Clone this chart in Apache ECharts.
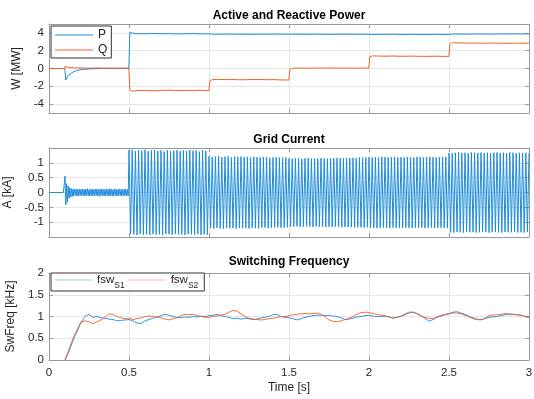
<!DOCTYPE html>
<html><head><meta charset="utf-8">
<script src="https://cdn.jsdelivr.net/npm/echarts@6/dist/echarts.min.js"></script>
<style>html,body{margin:0;padding:0;background:#fff}#c{width:534px;height:399px}</style>
</head><body><div id="c"></div>
<script>
// ---------- text ----------
const titles = ['Active and Reactive Power', 'Grid Current', 'Switching Frequency'];
const yNames = ['W [MW]', 'A [kA]', 'SwFreq [kHz]'];
const xName = 'Time [s]';
const seriesNames = ['P', 'Q', 'Grid current', 'fswS1', 'fswS2'];

// ---------- tick values ----------
const timeTicks = [0, 0.5, 1, 1.5, 2, 2.5, 3];
const powerTicks = [-4, -2, 0, 2, 4];
const currentTicks = [-1, -0.5, 0, 0.5, 1];
const freqTicks = [0, 0.5, 1, 1.5, 2];

// ---------- active / reactive power [MW] ----------
const pqTime = [0, 0.099, 0.1, 0.105, 0.11, 0.12, 0.13, 0.15, 0.17, 0.2, 0.25, 0.3, 0.35, 0.4, 0.45, 0.499,
  0.5, 0.505, 0.52, 0.55, 0.6, 0.65, 0.7, 0.75, 0.8, 0.85, 0.9, 0.95, 0.999,
  1.0, 1.005, 1.02, 1.05, 1.1, 1.15, 1.2, 1.25, 1.3, 1.35, 1.4, 1.45, 1.499,
  1.5, 1.505, 1.52, 1.55, 1.6, 1.65, 1.7, 1.75, 1.8, 1.85, 1.9, 1.95, 1.999,
  2.0, 2.005, 2.02, 2.05, 2.1, 2.15, 2.2, 2.25, 2.3, 2.35, 2.4, 2.45, 2.499,
  2.5, 2.505, 2.52, 2.55, 2.6, 2.65, 2.7, 2.75, 2.8, 2.85, 2.9, 2.95, 3.0];
const pValues = [0, 0, -0.3, -1.3, -1.1, -0.8, -0.6, -0.4, -0.25, -0.12, -0.05, -0.02, 0.0, -0.02, 0.0, 0.0,
  0.0, 4.05, 3.98, 3.92, 3.9, 3.93, 3.9, 3.91, 3.88, 3.9, 3.92, 3.89, 3.9,
  3.9, 3.88, 3.86, 3.85, 3.87, 3.85, 3.86, 3.84, 3.86, 3.85, 3.87, 3.85, 3.86,
  3.86, 3.84, 3.85, 3.86, 3.84, 3.86, 3.85, 3.83, 3.85, 3.86, 3.84, 3.85, 3.85,
  3.85, 3.83, 3.82, 3.84, 3.83, 3.85, 3.82, 3.84, 3.83, 3.82, 3.84, 3.83, 3.83,
  3.84, 3.86, 3.87, 3.88, 3.86, 3.87, 3.88, 3.86, 3.88, 3.87, 3.89, 3.88, 3.9];
const qValues = [0, 0, 0.25, 0.22, 0.18, 0.12, 0.1, 0.08, 0.06, 0.05, 0.04, 0.06, 0.04, 0.05, 0.04, 0.05,
  0.05, -2.4, -2.55, -2.48, -2.45, -2.5, -2.46, -2.44, -2.48, -2.45, -2.47, -2.44, -2.5,
  -2.5, -1.4, -1.25, -1.22, -1.25, -1.24, -1.27, -1.25, -1.23, -1.26, -1.25, -1.28, -1.3,
  -1.3, -0.1, 0.02, 0.05, 0.03, 0.05, 0.04, 0.06, 0.04, 0.05, 0.03, 0.05, 0.04,
  0.04, 1.3, 1.42, 1.4, 1.38, 1.4, 1.37, 1.39, 1.38, 1.36, 1.38, 1.37, 1.36,
  1.36, 2.7, 2.9, 2.88, 2.85, 2.87, 2.84, 2.86, 2.85, 2.83, 2.85, 2.84, 2.85];

// ---------- grid current [kA] ----------
// before 0.1 s the current is zero
const currentLeadTime = [0];
const currentLeadValues = [0];
// start-up transient and low-current band, every 5 ms from 0.09 s
const currentStartupTime = 0.09;
const currentStartupStep = 0.005;
const currentStartupValues = [
  0, 0, 0.55, -0.42, 0.30, -0.32, 0.22, -0.20, 0.16, -0.15, 0.13, -0.14, 0.12,
  -0.11, 0.12, -0.10, 0.11, -0.12, 0.10, -0.11, 0.12, -0.10, 0.11,
  -0.10, 0.12, -0.11, 0.10, -0.12, 0.11, -0.10, 0.13, -0.11, 0.10,
  -0.12, 0.11, -0.10, 0.12, -0.11, 0.10, -0.12, 0.11, -0.10, 0.12,
  -0.11, 0.10, -0.13, 0.11, -0.10, 0.12, -0.11, 0.10, -0.12, 0.11,
  -0.10, 0.12, -0.11, 0.10, -0.12, 0.13, -0.10, 0.11, -0.12, 0.10,
  -0.11, 0.12, -0.10, 0.11, -0.12, 0.10, -0.11, 0.12, -0.10, 0.11,
  -0.12, 0.10, -0.11, 0.12, -0.10, 0.11, -0.12, 0.10, -0.11];
// peak values every half cycle (10 ms) from 0.5 s
const currentStartTime = 0.5;
const currentStep = 0.01;
const currentValues = [
  1.42, -1.40, 1.44, -1.41, 1.40, -1.43, 1.43, -1.40, 1.41, -1.42,
  1.44, -1.41, 1.39, -1.43, 1.42, -1.40, 1.43, -1.42, 1.40, -1.41,
  1.42, -1.43, 1.38, -1.40, 1.43, -1.41, 1.40, -1.42, 1.41, -1.40,
  1.43, -1.42, 1.39, -1.41, 1.42, -1.43, 1.40, -1.40, 1.43, -1.41,
  1.41, -1.42, 1.42, -1.40, 1.38, -1.43, 1.42, -1.41, 1.40, -1.42,
  1.22, -1.20, 1.20, -1.22, 1.21, -1.19, 1.22, -1.21, 1.19, -1.22,
  1.21, -1.20, 1.22, -1.21, 1.18, -1.20, 1.21, -1.22, 1.20, -1.19,
  1.21, -1.21, 1.19, -1.20, 1.20, -1.21, 1.18, -1.19, 1.20, -1.20,
  1.19, -1.21, 1.18, -1.19, 1.20, -1.18, 1.19, -1.20, 1.17, -1.19,
  1.18, -1.18, 1.19, -1.17, 1.18, -1.19, 1.17, -1.18, 1.18, -1.17,
  1.15, -1.16, 1.14, -1.15, 1.16, -1.14, 1.15, -1.16, 1.13, -1.15,
  1.15, -1.14, 1.16, -1.15, 1.14, -1.16, 1.15, -1.14, 1.14, -1.15,
  1.16, -1.15, 1.15, -1.16, 1.14, -1.15, 1.16, -1.16, 1.15, -1.15,
  1.17, -1.16, 1.16, -1.17, 1.15, -1.16, 1.17, -1.16, 1.16, -1.17,
  1.17, -1.18, 1.16, -1.17, 1.18, -1.17, 1.17, -1.18, 1.18, -1.17,
  1.19, -1.18, 1.18, -1.19, 1.19, -1.20, 1.18, -1.19, 1.20, -1.18,
  1.19, -1.19, 1.18, -1.20, 1.19, -1.18, 1.20, -1.19, 1.18, -1.19,
  1.19, -1.20, 1.18, -1.18, 1.20, -1.19, 1.19, -1.20, 1.18, -1.19,
  1.20, -1.19, 1.19, -1.18, 1.18, -1.20, 1.19, -1.19, 1.20, -1.18,
  1.19, -1.20, 1.18, -1.19, 1.19, -1.18, 1.20, -1.19, 1.19, -1.20,
  1.33, -1.34, 1.32, -1.35, 1.34, -1.33, 1.35, -1.34, 1.33, -1.35,
  1.34, -1.33, 1.32, -1.34, 1.35, -1.33, 1.34, -1.35, 1.33, -1.34,
  1.35, -1.34, 1.33, -1.33, 1.34, -1.35, 1.32, -1.34, 1.34, -1.33,
  1.35, -1.34, 1.33, -1.35, 1.34, -1.33, 1.33, -1.34, 1.35, -1.34,
  1.34, -1.33, 1.32, -1.35, 1.34, -1.34, 1.33, -1.35, 1.34, -1.33,
  1.34];

// ---------- switching frequency [kHz], sampled every 25 ms from 0.1 s ----------
const fswStartTime = 0.1;
const fswStep = 0.025;
const fswS1 = [
  0.00, 0.20, 0.45, 0.65, 0.86, 1.00, 1.05, 0.98, 1.00, 0.97,
  0.96, 0.94, 0.93, 0.90, 0.91, 0.92, 0.93, 0.90, 0.85, 0.84,
  0.90, 0.93, 0.96, 0.99, 1.02, 1.05, 1.03, 1.00, 0.98, 0.97,
  0.99, 0.98, 1.00, 0.99, 1.01, 1.00, 1.02, 1.03, 1.05, 1.02,
  1.00, 0.98, 0.95, 0.96, 0.94, 0.96, 0.95, 0.93, 0.94, 0.97,
  0.98, 1.00, 1.04, 1.05, 1.00, 0.98, 0.97, 0.95, 0.92, 0.95,
  0.98, 1.00, 1.02, 1.03, 1.03, 1.02, 1.03, 1.01, 1.00, 0.97,
  0.93, 0.94, 0.96, 0.99, 1.00, 1.02, 1.03, 1.01, 1.00, 1.00,
  1.01, 0.99, 0.96, 0.98, 1.00, 1.04, 1.08, 1.10, 1.07, 1.02,
  0.96, 0.89, 0.93, 0.98, 1.01, 1.04, 1.06, 1.10, 1.11, 1.08,
  1.05, 1.00, 0.97, 0.94, 0.93, 0.95, 0.98, 0.99, 1.00, 1.02,
  1.04, 1.05, 1.05, 1.04, 1.03, 1.00, 0.98];
const fswS2 = [
  0.00, 0.25, 0.50, 0.70, 0.88, 0.90, 0.88, 0.83, 0.88, 0.92,
  0.98, 1.06, 1.05, 1.00, 0.97, 0.95, 0.96, 0.93, 0.95, 0.97,
  1.00, 1.01, 1.00, 0.98, 0.97, 0.94, 0.92, 0.95, 0.97, 1.02,
  1.05, 1.04, 1.05, 1.02, 1.00, 0.98, 0.98, 1.00, 1.01, 1.03,
  1.05, 1.10, 1.14, 1.12, 1.06, 1.00, 0.96, 0.94, 0.93, 0.92,
  0.93, 0.95, 0.96, 0.98, 1.00, 1.00, 1.02, 1.04, 1.05, 1.06,
  1.07, 1.06, 1.07, 1.08, 1.05, 1.00, 0.92, 0.89, 0.88, 0.90,
  0.93, 0.96, 1.00, 1.05, 1.09, 1.10, 1.09, 1.07, 1.05, 1.03,
  1.02, 0.99, 0.97, 0.98, 1.01, 1.06, 1.10, 1.10, 1.06, 1.01,
  0.98, 0.96, 0.95, 0.99, 1.03, 1.05, 1.07, 1.08, 1.08, 1.06,
  1.03, 0.99, 0.95, 0.93, 0.92, 0.96, 1.02, 1.03, 1.04, 1.05,
  1.07, 1.06, 1.05, 1.04, 1.03, 1.00, 0.97];

// ---------- build ----------
const FONT = '"Liberation Sans", Arial, Helvetica, sans-serif';
const BLUE = '#1f8ce0';
const ORANGE = '#f4622a';
const AXIS = '#9a9a9a';
const GRIDC = '#e6e6e6';
const TXT = '#262626';

function zip(t, v) { return v.map((y, i) => [t[i], y]); }
function stepped(t0, dt, v) { return v.map((y, i) => [+(t0 + i * dt).toFixed(4), y]); }

const currentData = zip(currentLeadTime, currentLeadValues)
  .concat(stepped(currentStartupTime, currentStartupStep, currentStartupValues))
  .concat(stepped(currentStartTime, currentStep, currentValues));

const grids = [
  { left: 49, right: 5, top: 24, height: 89, outerBoundsMode: 'none', containLabel: false },
  { left: 49, right: 5, top: 148, height: 89, outerBoundsMode: 'none', containLabel: false },
  { left: 49, right: 5, top: 273, height: 87, outerBoundsMode: 'none', containLabel: false }
];
const yRanges = [[-5, 5, 1], [-1.5, 1.5, 0.5], [0, 2, 0.5]];
const yTickSets = [powerTicks, currentTicks, freqTicks];
const yNameGaps = [19, 29, 25];

const xAxes = [], yAxes = [];
grids.forEach((g, i) => {
  xAxes.push({
    gridIndex: i, type: 'value', min: timeTicks[0], max: timeTicks[timeTicks.length - 1], interval: 0.5,
    axisLine: { show: true, onZero: false, lineStyle: { color: AXIS, width: 1 } },
    axisTick: { inside: true, length: 4, lineStyle: { color: AXIS } },
    axisLabel: { show: i === 2, color: TXT, fontSize: 11.5, fontFamily: FONT, margin: 7 },
    splitLine: { show: true, lineStyle: { color: GRIDC, width: 1 } },
    name: i === 2 ? xName : '', nameLocation: 'middle', nameGap: 22,
    nameTextStyle: { color: TXT, fontSize: 12, fontFamily: FONT }
  });
  xAxes.push({
    gridIndex: i, type: 'value', position: 'top', min: 0, max: 3, interval: 0.5,
    axisLine: { show: true, onZero: false, lineStyle: { color: AXIS, width: 1 } },
    axisTick: { inside: true, length: 4, lineStyle: { color: AXIS } },
    axisLabel: { show: false }, splitLine: { show: false }
  });
  const r = yRanges[i];
  const ticks = yTickSets[i];
  yAxes.push({
    gridIndex: i, type: 'value', min: r[0], max: r[1], interval: r[2],
    axisLine: { show: true, onZero: false, lineStyle: { color: AXIS, width: 1 } },
    axisTick: { inside: true, length: 4, lineStyle: { color: AXIS }, customValues: ticks },
    axisLabel: { color: TXT, fontSize: 11.5, fontFamily: FONT, margin: 5, customValues: ticks },
    splitLine: { show: true, lineStyle: { color: GRIDC, width: 1 }, customValues: ticks },
    name: yNames[i], nameLocation: 'middle', nameGap: yNameGaps[i], nameRotate: 90,
    nameTextStyle: { color: TXT, fontSize: 12, fontFamily: FONT }
  });
  yAxes.push({
    gridIndex: i, type: 'value', position: 'right', min: r[0], max: r[1], interval: r[2],
    axisLine: { show: true, onZero: false, lineStyle: { color: AXIS, width: 1 } },
    axisTick: { inside: true, length: 4, lineStyle: { color: AXIS }, customValues: ticks },
    axisLabel: { show: false }, splitLine: { show: false }
  });
});

const titleY = [15.5, 140, 262];
const graphics = titles.map((t, i) => ({
  type: 'text', x: 289, y: titleY[i], silent: true,
  style: { text: t, textAlign: 'center', textVerticalAlign: 'middle', fill: '#000', font: 'bold 12px ' + FONT }
}));

const lineCommon = { type: 'line', showSymbol: false, symbol: 'none', animation: false, silent: true };

const option = {
  animation: false,
  backgroundColor: '#fff',
  grid: grids,
  xAxis: xAxes,
  yAxis: yAxes,
  graphic: graphics,
  legend: [
    {
      data: ['P', 'Q'], orient: 'vertical', left: 51, top: 26, icon: 'rect', itemWidth: 38, itemHeight: 1, itemGap: 3,
      padding: [3, 4, 2, 4], borderColor: '#333', borderWidth: 1, backgroundColor: '#fff',
      textStyle: { color: TXT, fontSize: 12, fontFamily: FONT }, selectedMode: false
    },
    {
      data: ['fswS1', 'fswS2'], orient: 'horizontal', left: 51, top: 273, icon: 'rect', itemWidth: 37, itemHeight: 1, itemGap: 4,
      padding: [1, 6, 1, 4], borderColor: '#333', borderWidth: 1, backgroundColor: '#fff', selectedMode: false,
      itemStyle: { opacity: 0.45 },
      formatter: n => '{m|fsw}{s|' + n.slice(3) + '}',
      textStyle: {
        color: TXT, fontFamily: FONT,
        rich: {
          m: { fontSize: 11.5, lineHeight: 12, verticalAlign: 'top', fontFamily: FONT, color: TXT },
          s: { fontSize: 8.5, lineHeight: 9, padding: [7, 0, 0, 0], verticalAlign: 'top', fontFamily: FONT, color: TXT }
        }
      }
    }
  ],
  series: [
    Object.assign({}, lineCommon, { name: seriesNames[0], xAxisIndex: 0, yAxisIndex: 0, data: zip(pqTime, pValues), lineStyle: { color: BLUE, width: 1 }, itemStyle: { color: BLUE } }),
    Object.assign({}, lineCommon, { name: seriesNames[1], xAxisIndex: 0, yAxisIndex: 0, data: zip(pqTime, qValues), lineStyle: { color: ORANGE, width: 1 }, itemStyle: { color: ORANGE } }),
    Object.assign({}, lineCommon, { name: seriesNames[2], xAxisIndex: 2, yAxisIndex: 2, data: currentData, lineStyle: { color: BLUE, width: 1 }, itemStyle: { color: BLUE } }),
    Object.assign({}, lineCommon, { name: seriesNames[3], xAxisIndex: 4, yAxisIndex: 4, data: stepped(fswStartTime, fswStep, fswS1), lineStyle: { color: BLUE, width: 0.9 }, itemStyle: { color: BLUE } }),
    Object.assign({}, lineCommon, { name: seriesNames[4], xAxisIndex: 4, yAxisIndex: 4, data: stepped(fswStartTime, fswStep, fswS2), lineStyle: { color: ORANGE, width: 0.9 }, itemStyle: { color: ORANGE } })
  ]
};

const chart = echarts.init(document.getElementById('c'), null, { renderer: 'canvas' });
chart.setOption(option);
</script>
</body></html>
